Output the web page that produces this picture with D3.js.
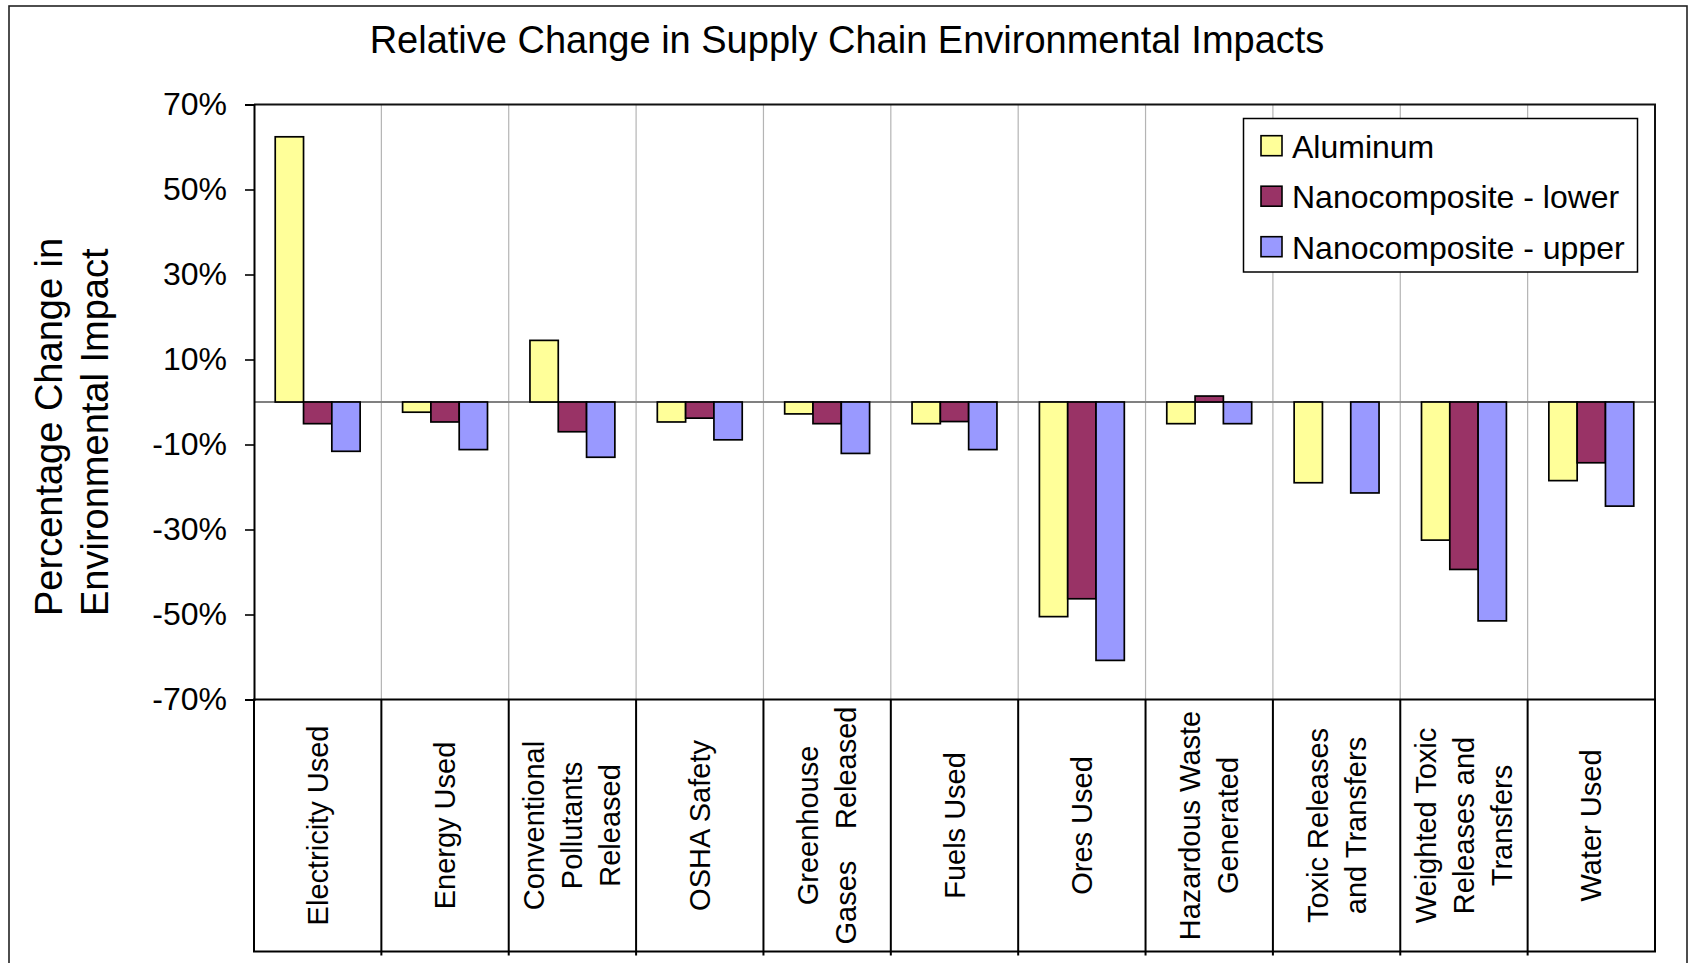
<!DOCTYPE html>
<html>
<head>
<meta charset="utf-8">
<script src="https://cdn.jsdelivr.net/npm/d3@7"></script>
<style>
  body { margin: 0; background: #fff; }
  svg { display: block; }
  text { font-family: "Liberation Sans", Arial, Helvetica, sans-serif; fill: #000; }
</style>
</head>
<body>
<svg id="chart" width="1690" height="963"></svg>
<script>
// ---- data ----
const categories = [
  "Electricity Used", "Energy Used", "Conventional Pollutants Released", "OSHA Safety",
  "Greenhouse Gases Released", "Fuels Used", "Ores Used", "Hazardous Waste Generated",
  "Toxic Releases and Transfers", "Weighted Toxic Releases and Transfers", "Water Used"
];
// wrapped label lines; a line with several parts is spread across the cell
const categoryLines = [
  [["Electricity Used"]],
  [["Energy Used"]],
  [["Conventional"], ["Pollutants"], ["Released"]],
  [["OSHA Safety"]],
  [["Greenhouse"], ["Gases", "Released"]],
  [["Fuels Used"]],
  [["Ores Used"]],
  [["Hazardous Waste"], ["Generated"]],
  [["Toxic Releases"], ["and Transfers"]],
  [["Weighted Toxic"], ["Releases and"], ["Transfers"]],
  [["Water Used"]]
];
const seriesNames = ["Aluminum", "Nanocomposite - lower", "Nanocomposite - upper"];
const aluminum  = [62.4, -2.4, 14.5, -4.7, -2.8, -5.1, -50.5, -5.1, -19.0, -32.5, -18.5];
const nanoLower = [-5.1, -4.7, -7.0, -3.8, -5.1, -4.6, -46.3, 1.4, null, -39.4, -14.3];
const nanoUpper = [-11.6, -11.2, -13.0, -8.9, -12.1, -11.2, -60.8, -5.1, -21.4, -51.5, -24.5];
const yTicks = [70, 50, 30, 10, -10, -30, -50, -70];
const seriesColors = ["#FFFF99", "#993366", "#9999FF"];

const titleText = "Relative Change in Supply Chain Environmental Impacts";
const yTitleLines = ["Percentage Change in", "Environmental Impact"];

// ---- layout ----
const plot = { left: 254, right: 1655, top: 104.5, bottom: 699.5 };
const tableBottom = 951.5;

const svg = d3.select("#chart");

// outer chart frame
svg.append("rect")
  .attr("x", 9).attr("y", 6).attr("width", 1678).attr("height", 980)
  .attr("fill", "#fff").attr("stroke", "#222").attr("stroke-width", 1.6);

const x = d3.scaleBand().domain(categories).range([plot.left, plot.right]).padding(0);
const xSeries = d3.scaleBand().domain(seriesNames).range([0, x.bandwidth()])
  .paddingInner(0).paddingOuter(0.75);
const y = d3.scaleLinear().domain([-70, 70]).range([plot.bottom, plot.top]);

// title
svg.append("text")
  .attr("x", 847).attr("y", 53)
  .attr("text-anchor", "middle")
  .attr("font-size", 38)
  .text(titleText);

// vertical gridlines between categories
const boundaries = categories.slice(1).map(c => x(c));
svg.append("g").selectAll("line").data(boundaries).join("line")
  .attr("x1", d => d).attr("x2", d => d)
  .attr("y1", plot.top).attr("y2", plot.bottom)
  .attr("stroke", "#b4b4b4").attr("stroke-width", 1.2);

// zero line
svg.append("line")
  .attr("x1", plot.left).attr("x2", plot.right)
  .attr("y1", y(0)).attr("y2", y(0))
  .attr("stroke", "#808080").attr("stroke-width", 2);

// plot frame (top and right)
svg.append("path")
  .attr("d", `M${plot.left},${plot.top}H${plot.right}V${plot.bottom}`)
  .attr("fill", "none").attr("stroke", "#111").attr("stroke-width", 2);

// bars
const seriesValues = [aluminum, nanoLower, nanoUpper];
const barData = [];
seriesValues.forEach((vals, si) => {
  vals.forEach((v, ci) => {
    if (v !== null) barData.push({ series: seriesNames[si], si, cat: categories[ci], value: v });
  });
});
svg.append("g").selectAll("rect").data(barData).join("rect")
  .attr("x", d => x(d.cat) + xSeries(d.series))
  .attr("width", xSeries.bandwidth())
  .attr("y", d => y(Math.max(0, d.value)))
  .attr("height", d => Math.abs(y(d.value) - y(0)))
  .attr("fill", d => seriesColors[d.si])
  .attr("stroke", "#000").attr("stroke-width", 1.7);

// y axis
const yAxis = svg.append("g")
  .attr("transform", `translate(${plot.left},0)`)
  .call(d3.axisLeft(y).tickValues(yTicks).tickSize(9).tickPadding(18)
    .tickFormat(d => d + "%"));
yAxis.select(".domain").attr("stroke", "#000").attr("stroke-width", 2);
yAxis.selectAll(".tick line").attr("stroke", "#000").attr("stroke-width", 1.6);
yAxis.selectAll(".tick text")
  .attr("font-size", 32)
  .attr("font-family", '"Liberation Sans", Arial, sans-serif')
  .attr("fill", "#000");

// y axis title (two lines, rotated)
svg.append("g").selectAll("text").data(yTitleLines).join("text")
  .attr("transform", (d, i) => `translate(${61.5 + i * 46.5},616) rotate(-90)`)
  .attr("text-anchor", "start")
  .attr("font-size", 38)
  .text(d => d);

// category label table under the plot
const table = svg.append("g");
table.append("rect")
  .attr("x", plot.left).attr("y", plot.bottom)
  .attr("width", plot.right - plot.left).attr("height", tableBottom - plot.bottom)
  .attr("fill", "none").attr("stroke", "#000").attr("stroke-width", 2);
table.selectAll("line.cell").data(boundaries).join("line")
  .attr("class", "cell")
  .attr("x1", d => d).attr("x2", d => d)
  .attr("y1", plot.bottom).attr("y2", tableBottom + 4)
  .attr("stroke", "#000").attr("stroke-width", 2);

const cellMidY = (plot.bottom + tableBottom) / 2;
const lineGap = 38;
const spreadHalf = 119;
const labelSize = 29;
categories.forEach((c, ci) => {
  const cx = x(c) + x.bandwidth() / 2;
  const lines = categoryLines[ci];
  const n = lines.length;
  lines.forEach((parts, li) => {
    const bx = cx + (li - (n - 1) / 2) * lineGap + 10;
    const g = table.append("g").attr("transform", `translate(${bx},${cellMidY}) rotate(-90)`);
    if (parts.length === 1) {
      g.append("text").attr("text-anchor", "middle").attr("font-size", labelSize).text(parts[0]);
    } else {
      g.append("text").attr("x", -spreadHalf).attr("text-anchor", "start")
        .attr("font-size", labelSize).text(parts[0]);
      g.append("text").attr("x", spreadHalf).attr("text-anchor", "end")
        .attr("font-size", labelSize).text(parts[parts.length - 1]);
    }
  });
});

// legend
const legend = svg.append("g");
legend.append("rect")
  .attr("x", 1243.5).attr("y", 118.5).attr("width", 394).attr("height", 153.5)
  .attr("fill", "#fff").attr("stroke", "#000").attr("stroke-width", 1.5);
const items = legend.selectAll("g.item").data(seriesNames).join("g")
  .attr("class", "item")
  .attr("transform", (d, i) => `translate(0,${145.7 + i * 50.5})`);
items.append("rect")
  .attr("x", 1261).attr("y", -10).attr("width", 21).attr("height", 20)
  .attr("fill", (d, i) => seriesColors[i])
  .attr("stroke", "#000").attr("stroke-width", 1.6);
items.append("text")
  .attr("x", 1292).attr("y", 12)
  .attr("font-size", 32)
  .text(d => d);
</script>
</body>
</html>
